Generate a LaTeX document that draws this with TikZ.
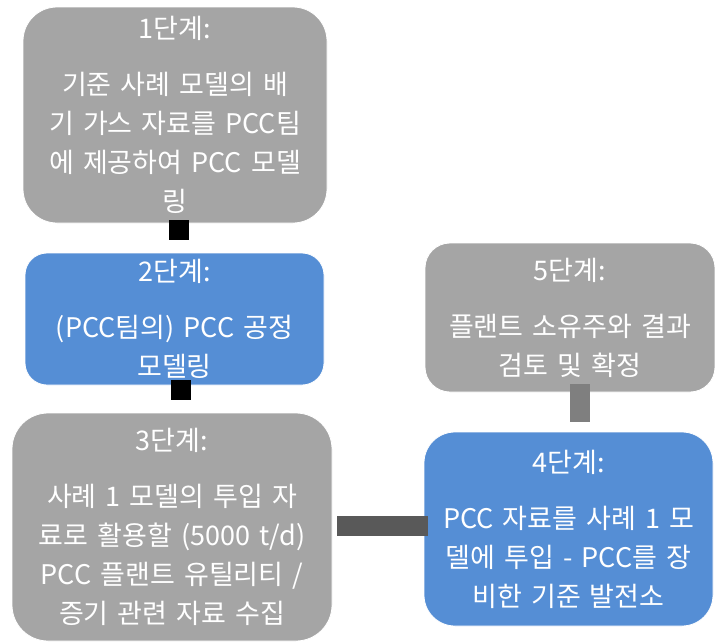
\documentclass[tikz,border=0pt]{standalone}
\usepackage{fontspec}
\setmainfont{Noto Sans CJK KR}[WordSpace=1.5]
\usepackage{tikz}
\usetikzlibrary{positioning}
\definecolor{stepgray}{HTML}{A5A5A5}
\definecolor{stepblue}{HTML}{558ED5}
\definecolor{bardark}{HTML}{595959}
\definecolor{barlight}{HTML}{7F7F7F}

\begin{document}
\begin{tikzpicture}[x=1pt, y=1pt,
            box/.style = {fill=stepgray, draw=white, line width=0.8pt,
                text=white, align=center, inner sep=0pt,
                font=\fontsize{27}{39}\selectfont},
            bluebox/.style = {box, fill=stepblue},
            bar/.style = {line width=20pt}]
    \useasboundingbox (0,0) rectangle (715,-643);
    \node[box, rounded corners=34pt, minimum width=304pt, minimum height=216pt]
        (s1) at (175,-115) {1단계:\\[17pt]기준 사례 모델의 배\\기 가스 자료를 PCC팀\\에 제공하여 PCC 모델\\링};
    \node[bluebox, rounded corners=22pt, minimum width=299pt, minimum height=132pt]
        (s2) at (174.5,-319) {2단계:\\[17pt](PCC팀의) PCC 공정\\모델링};
    \node[box, rounded corners=36pt, minimum width=320pt, minimum height=228pt]
        (s3) at (172,-527) {3단계:\\[17pt]사례 1 모델의 투입 자\\료로 활용할 (5000 t/d)\\PCC 플랜트 유틸리티 /\\증기 관련 자료 수집};
    \node[bluebox, rounded corners=31pt, minimum width=289pt, minimum height=194pt]
        (s4) at (568.5,-529) {4단계:\\[17pt]PCC 자료를 사례 1 모\\델에 투입 - PCC를 장\\비한 기준 발전소};
    \node[box, rounded corners=25pt, minimum width=290pt, minimum height=149pt]
        (s5) at (570,-317.5) {5단계:\\[17pt]플랜트 소유주와 결과\\검토 및 확정};
    \draw[bar, black] ([xshift=4pt, yshift=3pt]s1.south) -- ([xshift=4pt, yshift=-17pt]s1.south);
    \draw[bar, black] ([xshift=6.5pt, yshift=5pt]s2.south) -- ([xshift=6.5pt, yshift=-15pt]s2.south);
    \draw[bar, bardark] ([xshift=5pt, yshift=1pt]s3.east) -- ([xshift=4pt, yshift=3pt]s4.west);
    \draw[bar, barlight] ([xshift=10pt, yshift=8pt]s5.south) -- ([xshift=10pt, yshift=-30pt]s5.south);
\end{tikzpicture}
\end{document}
